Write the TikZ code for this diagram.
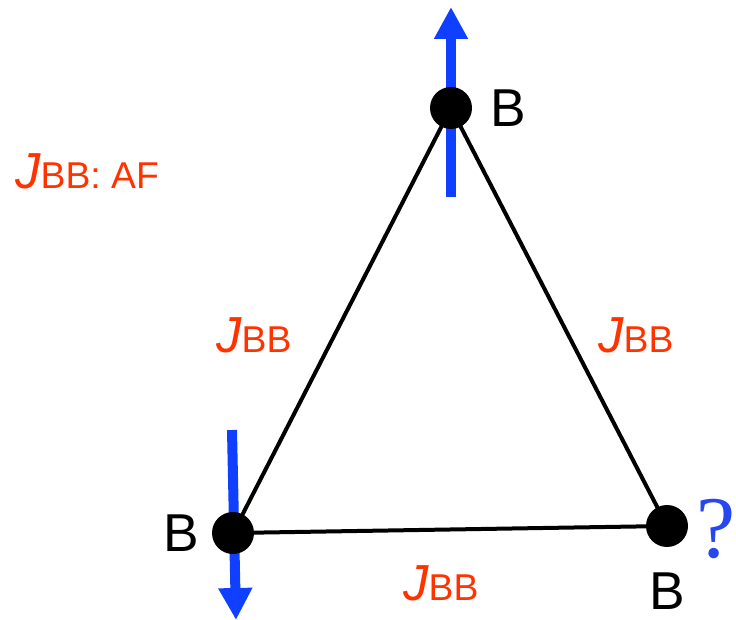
\documentclass[tikz,border=0pt]{standalone}
\usepackage{fontspec}
\newfontfamily\labelfont{Liberation Sans}
\newfontfamily\qfont{Liberation Serif}
\usepackage{tikz}
\usetikzlibrary{
  arrows.meta,
  positioning,
  backgrounds
}
\definecolor{SpinBlue}{HTML}{0F3FFF}
\definecolor{BondRed}{HTML}{FF3300}
\definecolor{QBlue}{HTML}{2646F0}
\tikzset{
  % Lattice site: filled black dot
  site/.style={
    circle, fill=black,
    minimum size=31.5pt, inner sep=0pt
  },
  % Bond between sites
  bond/.style={line width=3pt, color=black, line join=round},
  % Spin arrow
  spin/.style={
    -{Triangle[length=24pt,width=24pt]},
    line width=7.5pt, color=SpinBlue
  },
  % Site name
  atom/.style={font=\labelfont\fontsize{40}{40}\selectfont, inner sep=0pt},
  % Coupling label
  lbl/.style={font=\labelfont, text=BondRed, inner sep=0pt, anchor=base west}
}
\newcommand{\Jbb}{{\fontsize{38}{38}\selectfont\itshape J}{\fontsize{28}{28}\selectfont BB}}

\begin{document}
\begin{tikzpicture}[x=0.75pt, y=-0.75pt]
  \useasboundingbox (0,0) rectangle (736,620);

  % Sites of the triangle
  \node[site] (top)   at (451,108) {};
  \node[site] (left)  at (233,533) {};
  \node[site] (right) at (667,526) {};

  % Spin end points
  \coordinate (upTail)   at (451,197);
  \coordinate (upTip)    at (451,7);
  \coordinate (downTail) at (232,430);
  \coordinate (downTip)  at (236,620);

  \begin{scope}[on background layer]
    \draw[bond] (top.center) -- (left.center) -- (right.center) -- cycle;
    \draw[spin] (upTail)   -- (upTip);
    \draw[spin] (downTail) -- (downTip);
  \end{scope}

  % Site names
  \node[atom, right=13.5pt of top]  (nameTop)   {B};
  \node[atom, left=9pt of left]     (nameLeft)  {B};
  \node[atom, below=19pt of right]  (nameRight) {B};
  \node[font=\qfont\fontsize{66}{66}\selectfont, text=QBlue, inner sep=0pt,
    right=6pt of right, yshift=-2pt] (frustr) {?};

  % Couplings
  \node[lbl] (jAF)    at (15,189)  {\Jbb{\fontsize{28}{28}\selectfont: AF}};
  \node[lbl] (jLeft)  at (216,353) {\Jbb};
  \node[lbl] (jRight) at (598,353) {\Jbb};
  \node[lbl] (jBot)   at (403,600) {\Jbb};

\end{tikzpicture}
\end{document}
